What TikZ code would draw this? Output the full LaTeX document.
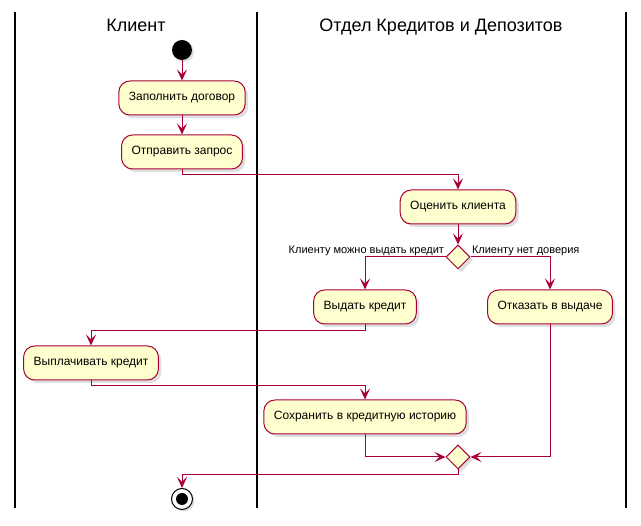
\documentclass[tikz,border=0pt]{standalone}
\usepackage{fontspec}
\setmainfont{Liberation Sans}
\usetikzlibrary{arrows.meta,shapes.geometric,shadows}
\definecolor{umlred}{HTML}{A80036}
\definecolor{umlfill}{HTML}{FEFECE}

\begin{document}
\begin{tikzpicture}[x=1pt,y=-1pt,
	lane/.style={line width=1.5pt,black},
	title/.style={anchor=base,font=\fontsize{18}{20}\selectfont},
	act/.style={draw=umlred,fill=umlfill,line width=1pt,rounded corners=11pt,minimum height=34pt,inner xsep=10pt,font=\fontsize{12}{14}\selectfont,drop shadow={shadow xshift=3pt,shadow yshift=-3pt,opacity=0.25}},
	choice/.style={diamond,draw=umlred,fill=umlfill,line width=1pt,minimum width=24pt,minimum height=24pt,inner sep=0pt,drop shadow={shadow xshift=3pt,shadow yshift=-3pt,opacity=0.25}},
	startdot/.style={circle,fill=black,minimum size=20pt,inner sep=0pt,drop shadow={shadow xshift=2pt,shadow yshift=-2pt,opacity=0.25}},
	stopdot/.style={circle,draw=black,line width=1pt,fill=white,minimum size=21pt,inner sep=0pt,drop shadow={shadow xshift=2pt,shadow yshift=-2pt,opacity=0.25},path picture={\fill[black] (path picture bounding box.center) circle (6pt);}},
	flow/.style={draw=umlred,line width=1pt,-{Stealth[length=11pt,width=10pt,inset=5pt]}},
	guard/.style={font=\fontsize{11}{13}\selectfont,inner sep=1pt}]
	\useasboundingbox (0,0) rectangle (641,526);
	% swimlanes
	\draw[lane] (15,12) -- (15,508);
	\draw[lane] (257,12) -- (257,508);
	\draw[lane] (626,12) -- (626,508);
	\node[title] (clientlane) at (136,32) {Клиент};
	\node[title] (banklane) at (441,32) {Отдел Кредитов и Депозитов};
	%
	\node[startdot] (start) at (182,50) {};
	\node[act] (fillform) at (182,98) {Заполнить договор};
	\node[act] (sendreq) at (182,152) {Отправить запрос};
	\node[act] (evaluate) at (458,207) {Оценить клиента};
	\node[choice] (decide) at (458,257) {};
	\node[act] (give) at (365,307) {Выдать кредит};
	\node[act] (refuse) at (550,307) {Отказать в выдаче};
	\node[act] (repay) at (91,363) {Выплачивать кредит};
	\node[act] (store) at (365,417) {Сохранить в кредитную историю};
	\node[choice] (merge) at (458,457) {};
	\node[stopdot] (stop) at (182,499) {};
	%
	\draw[flow] (start) -- (fillform);
	\draw[flow] (fillform) -- (sendreq);
	\draw[flow] (sendreq.south) -- ++(0,5) -| (evaluate.north);
	\draw[flow] (evaluate) -- (decide);
	\draw[flow] (decide.west) node[guard,anchor=south east]{Клиенту можно выдать кредит} -| (give.north);
	\draw[flow] (decide.east) node[guard,anchor=south west]{Клиенту нет доверия} -| (refuse.north);
	\draw[flow] (give.south) -- ++(0,6) -| (repay.north);
	\draw[flow] (repay.south) -- ++(0,5) -| (store.north);
	\draw[flow] (store.south) |- (merge.west);
	\draw[flow] (refuse.south) |- (merge.east);
	\draw[flow] (merge.south) -- ++(0,5) -| (stop.north);
\end{tikzpicture}
\end{document}
